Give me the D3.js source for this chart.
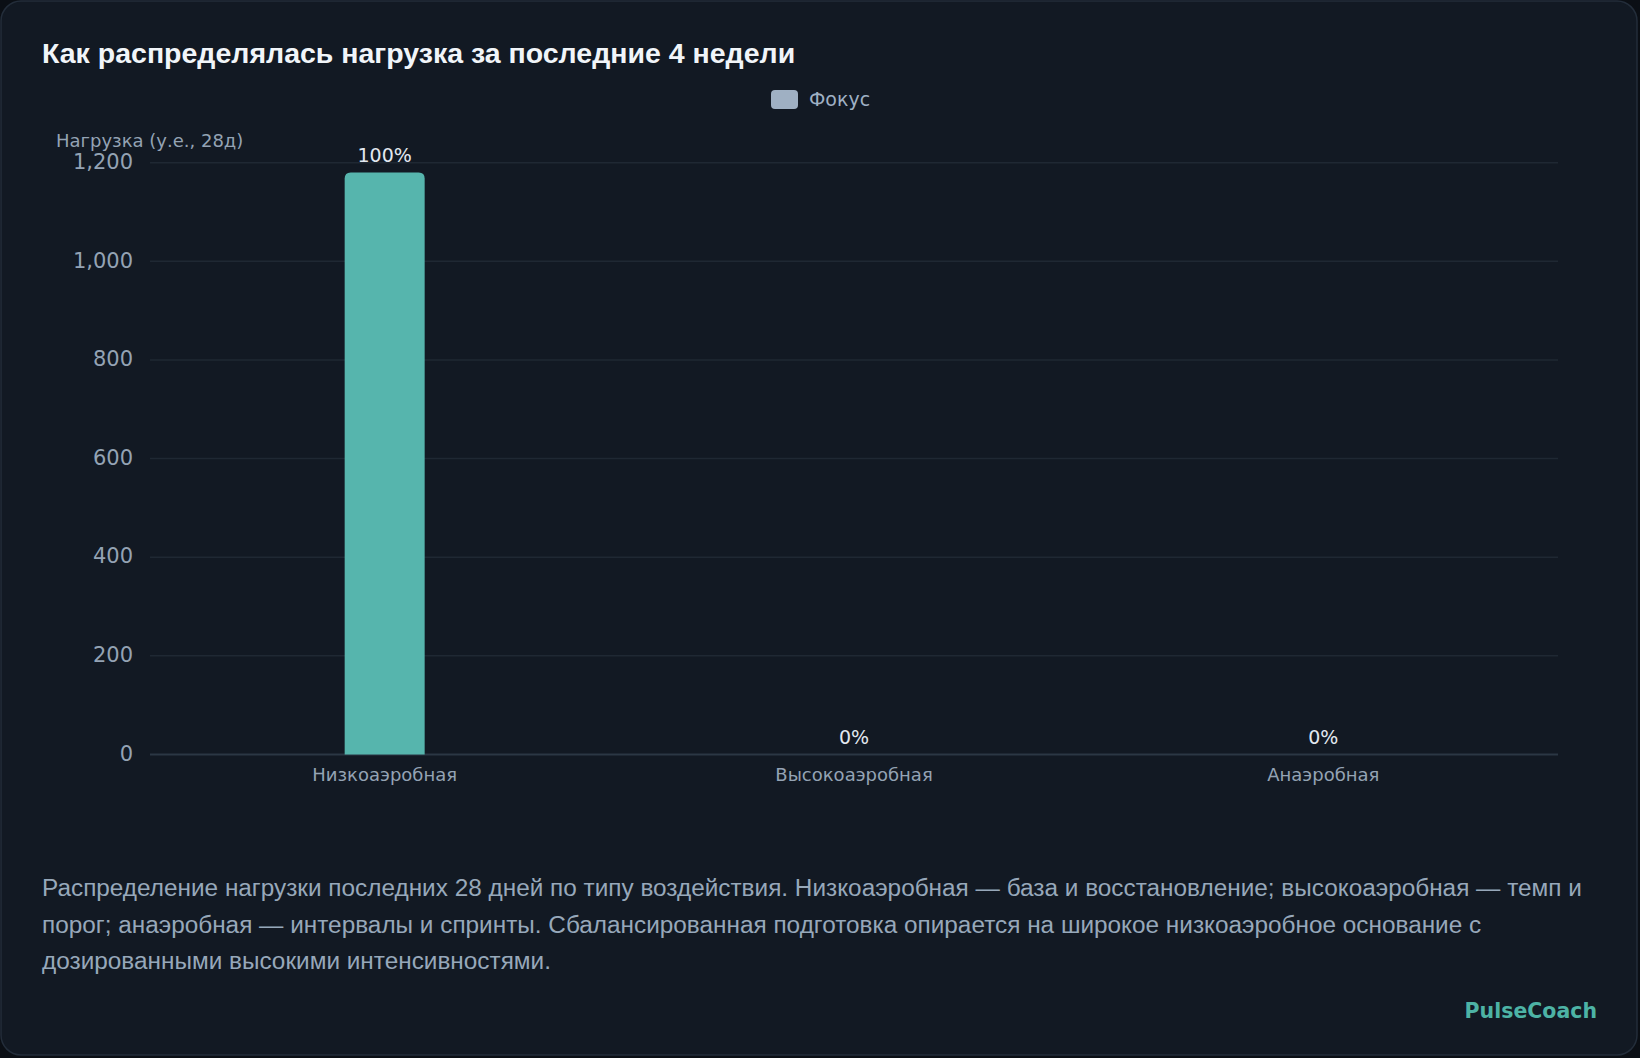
<!DOCTYPE html>
<html>
<head>
<meta charset="utf-8">
<script src="https://cdn.jsdelivr.net/npm/d3@7"></script>
<style>
  html, body { margin: 0; padding: 0; background: #0b0f15; }
  svg { display: block; }
</style>
</head>
<body>
<svg id="chart" width="1640" height="1058"></svg>
<script>
const categories = ['Низкоаэробная', 'Высокоаэробная', 'Анаэробная'];
const load_values = [1180, 0, 0];
const share_labels = ['100%', '0%', '0%'];
const y_ticks = [0, 200, 400, 600, 800, 1000, 1200];
const legend_items = ['Фокус'];
const title_text = 'Как распределялась нагрузка за последние 4 недели';
const y_axis_title = 'Нагрузка (у.е., 28д)';
const note_lines = [
    'Распределение нагрузки последних 28 дней по типу воздействия. Низкоаэробная — база и восстановление; высокоаэробная — темп и',
    'порог; анаэробная — интервалы и спринты. Сбалансированная подготовка опирается на широкое низкоаэробное основание с',
    'дозированными высокими интенсивностями.',
];
const brand = 'PulseCoach';

const chart_font = '"DejaVu Sans", sans-serif';
const text_font = '"Liberation Sans", Arial, sans-serif';

const svg = d3.select('#chart');
const margin = {top: 162.7, right: 82, bottom: 303.5, left: 150};
const W = 1640, H = 1058;

// card
svg.append('rect')
    .attr('x', 1).attr('y', 1)
    .attr('width', W - 4).attr('height', H - 4)
    .attr('rx', 20)
    .attr('fill', '#121923')
    .attr('stroke', '#232d3a')
    .attr('stroke-width', 1.5);

svg.append('text')
    .attr('x', 42).attr('y', 63)
    .attr('font-family', text_font)
    .attr('font-weight', 700)
    .attr('font-size', 28.5)
    .attr('fill', '#f1f5f9')
    .text(title_text);

// legend
const legend = svg.append('g').attr('transform', 'translate(771, 90)');
legend_items.forEach((name, i) => {
    legend.append('rect')
        .attr('x', 0).attr('y', 0)
        .attr('width', 27).attr('height', 19)
        .attr('rx', 4)
        .attr('fill', '#9fb0c3');
    legend.append('text')
        .attr('x', 38).attr('y', 16)
        .attr('font-family', chart_font)
        .attr('font-size', 19)
        .attr('fill', '#9fb0c3')
        .text(name);
});

const x = d3.scaleBand()
    .domain(categories)
    .range([margin.left, W - margin.right])
    .padding(0);

const y = d3.scaleLinear()
    .domain([0, 1200])
    .range([H - margin.bottom, margin.top]);

// grid
svg.append('g')
    .selectAll('line')
    .data(y_ticks)
    .join('line')
    .attr('x1', margin.left)
    .attr('x2', W - margin.right)
    .attr('y1', d => y(d))
    .attr('y2', d => y(d))
    .attr('stroke', d => d === 0 ? '#2b3744' : '#1f2833')
    .attr('stroke-width', d => d === 0 ? 2 : 1.5);

// y axis labels
const y_axis = d3.axisLeft(y)
    .tickValues(y_ticks)
    .tickFormat(d3.format(','))
    .tickSize(0)
    .tickPadding(17);

svg.append('g')
    .attr('transform', `translate(${margin.left}, -1)`)
    .call(y_axis)
    .call(g => g.select('.domain').remove())
    .call(g => g.selectAll('text')
        .attr('font-family', chart_font)
        .attr('font-size', 21)
        .attr('fill', '#94a3b4'));

svg.append('text')
    .attr('x', 56).attr('y', 147)
    .attr('font-family', chart_font)
    .attr('font-size', 18)
    .attr('fill', '#94a3b4')
    .text(y_axis_title);

// x axis labels
const x_axis = d3.axisBottom(x).tickSize(0).tickPadding(14);
svg.append('g')
    .attr('transform', `translate(0, ${y(0)})`)
    .call(x_axis)
    .call(g => g.select('.domain').remove())
    .call(g => g.selectAll('text')
        .attr('font-family', chart_font)
        .attr('font-size', 18)
        .attr('fill', '#94a3b4'));

// bars with rounded top
const bar_w = 80, r = 6;
function bar_path(d, i) {
    const cx = x(categories[i]) + x.bandwidth() / 2;
    const x0 = cx - bar_w / 2, x1 = cx + bar_w / 2;
    const y0 = y(0), y1 = y(d);
    if (y0 - y1 < r) return '';
    return `M${x0},${y0}V${y1 + r}Q${x0},${y1} ${x0 + r},${y1}H${x1 - r}Q${x1},${y1} ${x1},${y1 + r}V${y0}Z`;
}

svg.append('g')
    .selectAll('path')
    .data(load_values)
    .join('path')
    .attr('d', bar_path)
    .attr('fill', '#56b5ad');

svg.append('g')
    .selectAll('text')
    .data(load_values)
    .join('text')
    .attr('x', (d, i) => x(categories[i]) + x.bandwidth() / 2)
    .attr('y', d => y(d) - 11)
    .attr('text-anchor', 'middle')
    .attr('font-family', chart_font)
    .attr('font-size', 19)
    .attr('fill', '#e2e8f0')
    .text((d, i) => share_labels[i]);

// note
svg.append('text')
    .attr('font-family', text_font)
    .attr('font-size', 24.35)
    .attr('fill', '#97a8ba')
    .selectAll('tspan')
    .data(note_lines)
    .join('tspan')
    .attr('x', 42)
    .attr('y', (d, i) => 896 + i * 36.5)
    .text(d => d);

svg.append('text')
    .attr('x', 1597).attr('y', 1018)
    .attr('text-anchor', 'end')
    .attr('font-family', chart_font)
    .attr('font-weight', 700)
    .attr('font-size', 20.5)
    .attr('fill', '#4db3a5')
    .text(brand);
</script>
</body>
</html>
